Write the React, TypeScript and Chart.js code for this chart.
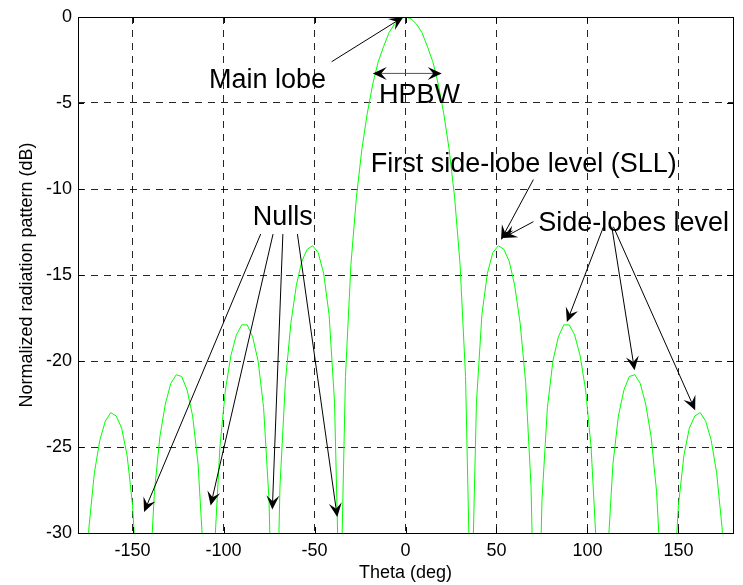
import { useEffect, useRef } from 'react';
import { Chart, registerables } from 'chart.js';

Chart.register(...registerables);

// Radiation pattern samples (theta in degrees, level in dB)
const thetaDeg = [
  -180, -177, -174, -171, -168, -165, -162, -159, -156, -153, -150, -147, -145, -144, -143, -141,
  -138, -135, -132, -129, -126, -123, -120, -117, -114, -111, -109, -108, -107, -105, -102, -99,
  -96, -93, -90, -87, -84, -81, -78, -75, -73, -72, -71, -69, -66, -63, -60, -57, -54, -51, -48,
  -45, -42, -39, -37, -36, -35, -33, -30, -27, -24, -21, -18, -15, -12, -9, -6, -3, 0,
  3, 6, 9, 12, 15, 18, 21, 24, 27, 30, 33, 35, 36, 37, 39, 42, 45, 48, 51, 54, 57, 60, 63, 66,
  69, 71, 72, 73, 75, 78, 81, 84, 87, 90, 93, 96, 99, 102, 105, 107, 108, 109, 111, 114, 117,
  120, 123, 126, 129, 132, 135, 138, 141, 143, 144, 145, 147, 150, 153, 156, 159, 162, 165, 168,
  171, 174, 177, 180,
];
const patternDb = [
  -60, -35.5, -29.7, -26.5, -24.6, -23.5, -23.0, -23.2, -23.9, -25.5, -28.4, -33.9, -43.2, -60, -43.1, -33.6,
  -27.6, -24.4, -22.5, -21.3, -20.8, -20.9, -21.7, -23.2, -26.0, -31.5, -40.8, -60, -40.6, -31.0, -25.0, -21.7,
  -19.7, -18.5, -17.9, -17.9, -18.6, -20.0, -22.7, -28.1, -37.3, -60, -37.0, -27.3, -21.2, -17.8, -15.6, -14.2, -13.5, -13.3, -13.7,
  -14.9, -17.3, -22.4, -31.4, -60, -30.9, -20.9, -14.4, -10.5, -7.7, -5.6, -3.9, -2.6, -1.7, -0.9, -0.4, -0.1, 0,
  -0.1, -0.4, -0.9, -1.7, -2.6, -3.9, -5.6, -7.7, -10.5, -14.4, -20.9, -30.9, -60, -31.4, -22.4, -17.3, -14.9, -13.7, -13.3, -13.5, -14.2, -15.6, -17.8, -21.2,
  -27.3, -37.0, -60, -37.3, -28.1, -22.7, -20.0, -18.6, -17.9, -17.9, -18.5, -19.7, -21.7, -25.0, -31.0, -40.6, -60, -40.8, -31.5, -26.0, -23.2,
  -21.7, -20.9, -20.8, -21.3, -22.5, -24.4, -27.6, -33.6, -43.1, -60, -43.2, -33.9, -28.4, -25.5, -23.9, -23.2, -23.0, -23.5, -24.6,
  -26.5, -29.7, -35.5, -60,
];

const xTickValues = [-150, -100, -50, 0, 50, 100, 150];
const yTickValues = [-30, -25, -20, -15, -10, -5, 0];
const xRange = [-180, 180];
const yRange = [-30, 0];
const xAxisTitle = 'Theta (deg)';
const yAxisTitle = 'Normalized radiation pattern (dB)';

// Annotation texts (data coordinates of the left end of the text baseline)
const noteTexts = ['Main lobe', 'HPBW', 'First side-lobe level (SLL)', 'Side-lobes level', 'Nulls'];
const noteX = [-108, -14.6, -19.1, 73.0, -84.0];
const noteY = [-4.1, -5.0, -9.0, -12.43, -12.1];

// Single-headed arrows: tail -> tip (data coordinates)
const arrowTail = [
  [-40.6, -2.6],
  [70.3, -9.45],
  [70.3, -11.9],
  [108.8, -12.2],
  [113.4, -12.2],
  [114.3, -12.2],
  [-79.6, -12.62],
  [-72.8, -12.62],
  [-67.4, -12.62],
  [-59.4, -12.62],
];
const arrowTip = [
  [-1.2, 0],
  [52.5, -12.95],
  [53.5, -12.85],
  [88.7, -17.73],
  [125.9, -20.54],
  [159.2, -22.86],
  [-143.7, -28.78],
  [-107.1, -28.4],
  [-73.2, -28.64],
  [-37.5, -29.07],
];
// HPBW double arrow
const hpbwFrom = [-18.0, -3.28];
const hpbwTo = [19.9, -3.28];

const FONT = '"Liberation Sans", Arial, Helvetica, sans-serif';

function drawHead(ctx: CanvasRenderingContext2D, x1: number, y1: number, x2: number, y2: number) {
  const L = 14;
  const W = 6.5;
  const ang = Math.atan2(y2 - y1, x2 - x1);
  const c = Math.cos(ang);
  const s = Math.sin(ang);
  ctx.beginPath();
  ctx.moveTo(x2, y2);
  ctx.lineTo(x2 - L * c + W * s, y2 - L * s - W * c);
  ctx.lineTo(x2 - 0.6 * L * c, y2 - 0.6 * L * s);
  ctx.lineTo(x2 - L * c - W * s, y2 - L * s + W * c);
  ctx.closePath();
  ctx.fill();
}

const annotationPlugin = {
  id: 'radiationAnnotations',
  afterDatasetsDraw(chart: any) {
    const { ctx, chartArea: a, scales } = chart;
    const xs = scales.x;
    const ys = scales.y;
    const px = (v: number) => xs.getPixelForValue(v);
    const py = (v: number) => ys.getPixelForValue(v);
    ctx.save();
    // inward tick marks
    ctx.strokeStyle = '#000';
    ctx.lineWidth = 1;
    ctx.setLineDash([]);
    const tl = 6;
    ctx.beginPath();
    xTickValues.forEach((v) => {
      const x = Math.round(px(v)) + 0.5;
      ctx.moveTo(x, a.bottom);
      ctx.lineTo(x, a.bottom - tl);
      ctx.moveTo(x, a.top);
      ctx.lineTo(x, a.top + tl);
    });
    yTickValues.forEach((v) => {
      const y = Math.round(py(v)) + 0.5;
      ctx.moveTo(a.left, y);
      ctx.lineTo(a.left + tl, y);
      ctx.moveTo(a.right, y);
      ctx.lineTo(a.right - tl, y);
    });
    ctx.stroke();
    // box
    ctx.strokeRect(Math.round(a.left) + 0.5, Math.round(a.top) + 0.5, Math.round(a.right - a.left), Math.round(a.bottom - a.top));

    // arrows
    ctx.fillStyle = '#000';
    ctx.strokeStyle = '#000';
    for (let i = 0; i < arrowTail.length; i++) {
      const x1 = px(arrowTail[i][0]);
      const y1 = py(arrowTail[i][1]);
      const x2 = px(arrowTip[i][0]);
      const y2 = py(arrowTip[i][1]);
      ctx.beginPath();
      ctx.moveTo(x1, y1);
      const ang = Math.atan2(y2 - y1, x2 - x1);
      ctx.lineTo(x2 - 8 * Math.cos(ang), y2 - 8 * Math.sin(ang));
      ctx.stroke();
      drawHead(ctx, x1, y1, x2, y2);
    }
    // double arrow (HPBW)
    {
      const x1 = px(hpbwFrom[0]);
      const y1 = py(hpbwFrom[1]);
      const x2 = px(hpbwTo[0]);
      const y2 = py(hpbwTo[1]);
      ctx.strokeStyle = '#555';
      ctx.beginPath();
      ctx.moveTo(x1 + 8, y1);
      ctx.lineTo(x2 - 8, y2);
      ctx.stroke();
      drawHead(ctx, x1, y1, x2, y2);
      drawHead(ctx, x2, y2, x1, y1);
    }
    // texts
    ctx.font = `27px ${FONT}`;
    ctx.fillStyle = '#000';
    ctx.textAlign = 'left';
    ctx.textBaseline = 'alphabetic';
    noteTexts.forEach((t, i) => {
      ctx.fillText(t, px(noteX[i]), py(noteY[i]));
    });
    ctx.restore();
  },
};

export default function App() {
  const canvasRef = useRef<HTMLCanvasElement | null>(null);

  useEffect(() => {
    const canvas = canvasRef.current;
    if (!canvas) return;
    const points = thetaDeg.map((t, i) => ({ x: t, y: patternDb[i] }));
    const chart = new Chart(canvas, {
      type: 'line',
      data: {
        datasets: [
          {
            data: points,
            borderColor: '#00ff00',
            borderWidth: 1,
            pointRadius: 0,
            fill: false,
            tension: 0,
          },
        ],
      },
      options: {
        animation: false,
        responsive: false,
        events: [],
        layout: { padding: { top: 17, right: 10, left: 0, bottom: 0 } },
        plugins: {
          legend: { display: false },
          tooltip: { enabled: false },
          title: { display: false },
        },
        scales: {
          x: {
            type: 'linear',
            min: xRange[0],
            max: xRange[1],
            afterBuildTicks: (s: any) => {
              s.ticks = xTickValues.map((v) => ({ value: v }));
            },
            afterFit: (s: any) => {
              s.height = 52;
            },
            grid: { color: 'rgba(0,0,0,0.85)', lineWidth: 1, drawTicks: false },
            border: { display: false, dash: [7, 6] },
            ticks: {
              color: '#000',
              font: { family: FONT, size: 18 },
              padding: 7,
              maxRotation: 0,
              autoSkip: false,
              callback: (v: any) => String(v),
            },
            title: {
              display: true,
              text: xAxisTitle,
              color: '#000',
              font: { family: FONT, size: 18 },
              padding: { top: 0, bottom: 1 },
            },
          },
          y: {
            type: 'linear',
            min: yRange[0],
            max: yRange[1],
            afterBuildTicks: (s: any) => {
              s.ticks = yTickValues.map((v) => ({ value: v }));
            },
            afterFit: (s: any) => {
              s.width = 78;
            },
            grid: { color: 'rgba(0,0,0,0.85)', lineWidth: 1, drawTicks: false },
            border: { display: false, dash: [7, 6] },
            ticks: {
              color: '#000',
              font: { family: FONT, size: 18 },
              padding: 6,
              autoSkip: false,
              callback: (v: any) => String(v),
            },
            title: {
              display: true,
              text: yAxisTitle,
              color: '#000',
              font: { family: FONT, size: 18 },
              padding: { top: 16, bottom: 0 },
            },
          },
        },
      },
      plugins: [annotationPlugin],
    });
    return () => {
      chart.destroy();
    };
  }, []);

  return (
    <div style={{ position: 'absolute', left: 0, top: 0, width: 743, height: 585, background: '#fff' }}>
      <canvas ref={canvasRef} width={743} height={585} style={{ display: 'block', width: 743, height: 585 }} />
    </div>
  );
}
